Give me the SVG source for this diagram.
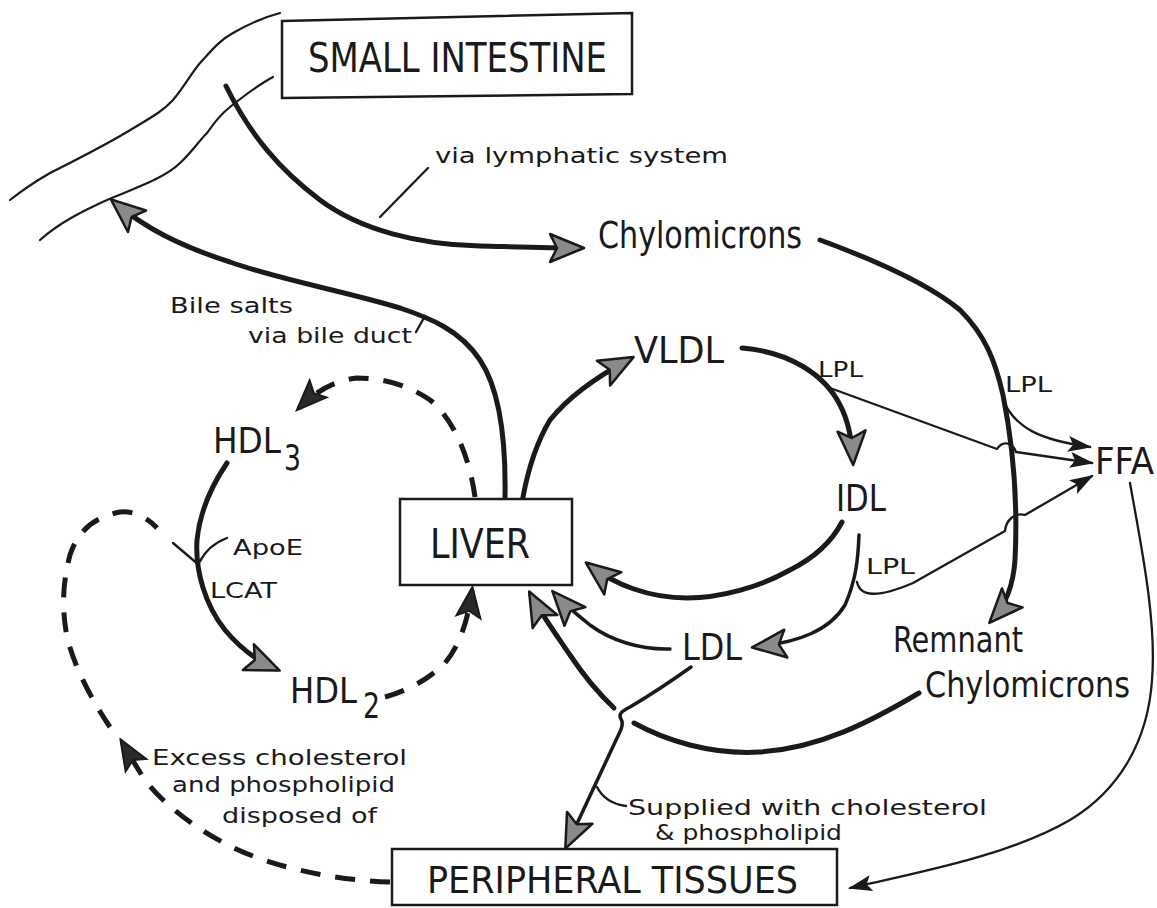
<svg xmlns="http://www.w3.org/2000/svg" width="1157" height="908" viewBox="0 0 1157 908">
<style>
.bg{fill:#fff}
.ln{fill:none;stroke:#1a1a1a;stroke-linecap:round;stroke-linejoin:round}
.thick{stroke-width:5}
.med{stroke-width:3.5}
.thin{stroke-width:2.3}
.dash{stroke-width:5;stroke-dasharray:20 15;stroke-linecap:butt}
.box{fill:none;stroke:#1a1a1a;stroke-width:2.5}
.big{font-family:"DejaVu Sans Condensed","DejaVu Sans",sans-serif;fill:#1a1a1a}
.sm{font-family:"DejaVu Sans",sans-serif;fill:#1a1a1a}
</style>
<defs>
<marker id="ah" viewBox="-2 -2 38 32" refX="30" refY="14" markerWidth="38" markerHeight="32" markerUnits="userSpaceOnUse" orient="auto">
<path d="M0,0 L34,14 L0,28 L7,14 Z" fill="#8a8a8a" stroke="#1a1a1a" stroke-width="2.5" stroke-linejoin="round"/>
</marker>
<marker id="ad" viewBox="-2 -2 34 28" refX="27" refY="12" markerWidth="34" markerHeight="28" markerUnits="userSpaceOnUse" orient="auto">
<path d="M0,0 L30,12 L0,24 L6,12 Z" fill="#2a2a2a" stroke="#1a1a1a" stroke-width="2"/>
</marker>
<marker id="at" viewBox="-1 -1 26 18" refX="22" refY="8" markerWidth="26" markerHeight="18" markerUnits="userSpaceOnUse" orient="auto">
<path d="M0,0 L24,8 L0,16 L5,8 Z" fill="#1a1a1a"/>
</marker>
</defs>
<rect class="bg" x="0" y="0" width="1157" height="908"/>

<g id="intestine-outline">
<path class="ln" stroke-width="2.2" d="M10,200 C25,188 38,180 50,173 C80,158 105,145 127,132 C150,118 162,112 173,100 C185,86 190,75 200,63 C212,50 220,40 233,33 C250,23 265,17 280,13"/>
<path class="ln" stroke-width="2.2" d="M40,240 C60,222 85,210 107,200 C135,188 165,178 180,163 C192,152 198,142 207,133 C215,122 220,115 230,107 C245,95 258,85 273,77"/>
</g>

<g id="connectors">
<path class="ln thick" marker-end="url(#ah)" d="M226,86 C250,135 280,170 320,200 C360,230 420,245 480,246 C520,247 550,248 580,248"/>
<path class="ln thin" d="M428,168 L380,217"/>
<path class="ln thick" marker-end="url(#ah)" d="M505,497 C506,440 500,390 480,360 C460,330 430,318 400,308 C340,290 280,280 230,262 C180,246 145,228 114,202"/>
<path class="ln thin" d="M416,332 L425,316"/>
<path class="ln thick" marker-end="url(#ah)" d="M820,240 C880,262 930,285 960,310 C985,335 995,360 1003,395 C1012,440 1018,500 1015,560 C1013,590 1003,608 992,620"/>
<path class="ln thin" marker-end="url(#at)" d="M1003,400 C1015,428 1040,440 1090,447"/>
<path class="ln thin" marker-end="url(#at)" d="M830,388 L997,449 C1002,441 1012,441 1016,452 L1092,463"/>
<path class="ln thick" marker-end="url(#ah)" d="M523,497 C528,470 535,445 550,420 C570,395 600,375 630,359"/>
<path class="ln thick" marker-end="url(#ah)" d="M742,348 C790,352 825,375 840,405 C848,420 852,440 853,461"/>
<path class="ln thick" marker-end="url(#ah)" d="M842,522 C830,545 810,560 790,570 C760,587 720,598 687,598 C650,598 615,585 589,565"/>
<path class="ln med" marker-end="url(#ah)" d="M859,535 C858,560 856,580 845,605 C830,630 800,642 756,647"/>
<path class="ln thin" marker-end="url(#at)" d="M857,582 C860,597 878,598 913,583 L1005,531 C1006,520 1015,512 1025,515 L1092,476"/>
<path class="ln thin" marker-end="url(#at)" d="M1130,483 C1140,540 1157,620 1152,680 C1148,740 1120,790 1070,820 C1010,855 920,872 850,888"/>
<path class="ln med" marker-end="url(#ah)" d="M670,649 C640,650 610,640 590,625 C575,613 563,603 555,594"/>
<path class="ln med" marker-end="url(#ah)" d="M691,667 C670,682 652,694 630,707 C622,711 618,714 621,719 C624,724 621,730 617,738 L567,845"/>
<path class="ln thick" d="M919,693 C870,722 820,748 760,752 C710,755 665,740 634,723"/>
<path class="ln thick" marker-end="url(#ah)" d="M614,708 C595,690 580,670 570,655 C555,633 540,612 531,595"/>
<path class="ln thin" d="M597,787 Q605,803 626,806"/>
<path class="ln dash" marker-end="url(#ad)" d="M475,497 C470,460 455,420 430,400 C405,383 380,378 357,378 C335,380 315,392 299,408"/>
<path class="ln thick" marker-end="url(#ah)" d="M227,463 C212,485 200,510 197,540 C195,570 205,605 225,630 C240,648 255,660 276,669"/>
<path class="ln thin" d="M173,543 L199,565"/>
<path class="ln thin" d="M199,563 Q208,545 227,538"/>
<path class="ln dash" marker-end="url(#ad)" d="M385,697 C410,690 430,678 445,663 C460,645 468,620 472,590"/>
<path class="ln dash" marker-end="url(#ad)" d="M390,882 C330,880 270,866 230,846 C190,826 160,800 145,780 C135,765 128,752 122,742"/>
<path class="ln dash" d="M110,727 C95,705 75,670 67,637 C62,610 62,585 70,555 C78,530 95,517 120,512 C135,510 150,520 157,528"/>
</g>

<g id="node-small-intestine">
<path class="box" d="M282,21 L632,13 L632,94 L282,98 Z"/>
<text class="big" x="308" y="72" font-size="40" textLength="299" lengthAdjust="spacingAndGlyphs">SMALL INTESTINE</text>
</g>
<g id="label-lymphatic"><text class="sm" x="435" y="163" font-size="22" textLength="293" lengthAdjust="spacingAndGlyphs">via lymphatic system</text></g>
<g id="node-chylomicrons"><text class="big" x="598" y="248" font-size="38" textLength="204" lengthAdjust="spacingAndGlyphs">Chylomicrons</text></g>
<g id="label-bile">
<text class="sm" x="170" y="313" font-size="22" textLength="123" lengthAdjust="spacingAndGlyphs">Bile salts</text>
<text class="sm" x="248" y="343" font-size="22" textLength="164" lengthAdjust="spacingAndGlyphs">via bile duct</text>
</g>
<g id="node-vldl"><text class="big" x="634" y="363" font-size="38" textLength="90" lengthAdjust="spacingAndGlyphs">VLDL</text></g>
<g id="label-lpl-1"><text class="sm" x="818" y="377" font-size="21" textLength="45" lengthAdjust="spacingAndGlyphs">LPL</text></g>
<g id="label-lpl-2"><text class="sm" x="1005" y="392" font-size="21" textLength="47" lengthAdjust="spacingAndGlyphs">LPL</text></g>
<g id="label-lpl-3"><text class="sm" x="866" y="574" font-size="21" textLength="49" lengthAdjust="spacingAndGlyphs">LPL</text></g>
<g id="node-ffa"><text class="big" x="1095" y="474" font-size="38" textLength="59" lengthAdjust="spacingAndGlyphs">FFA</text></g>
<g id="node-idl"><text class="big" x="836" y="511" font-size="37" textLength="50" lengthAdjust="spacingAndGlyphs">IDL</text></g>
<g id="node-liver">
<rect class="box" x="400" y="499" width="172" height="86"/>
<text class="big" x="430" y="558" font-size="41" textLength="100" lengthAdjust="spacingAndGlyphs">LIVER</text>
</g>
<g id="node-hdl3">
<text class="big" x="213" y="453" font-size="36" textLength="68" lengthAdjust="spacingAndGlyphs">HDL</text>
<text class="big" x="284" y="470" font-size="35" textLength="17" lengthAdjust="spacingAndGlyphs">3</text>
</g>
<g id="label-apoe"><text class="sm" x="233" y="555" font-size="21" textLength="70" lengthAdjust="spacingAndGlyphs">ApoE</text></g>
<g id="label-lcat"><text class="sm" x="210" y="598" font-size="21" textLength="67" lengthAdjust="spacingAndGlyphs">LCAT</text></g>
<g id="node-hdl2">
<text class="big" x="290" y="703" font-size="36" textLength="67" lengthAdjust="spacingAndGlyphs">HDL</text>
<text class="big" x="363" y="718" font-size="35" textLength="17" lengthAdjust="spacingAndGlyphs">2</text>
</g>
<g id="node-ldl"><text class="big" x="682" y="660" font-size="37" textLength="60" lengthAdjust="spacingAndGlyphs">LDL</text></g>
<g id="node-remnant">
<text class="big" x="893" y="652" font-size="35" textLength="130" lengthAdjust="spacingAndGlyphs">Remnant</text>
<text class="big" x="925" y="697" font-size="36" textLength="205" lengthAdjust="spacingAndGlyphs">Chylomicrons</text>
</g>
<g id="label-excess">
<text class="sm" x="152" y="765" font-size="22" textLength="255" lengthAdjust="spacingAndGlyphs">Excess cholesterol</text>
<text class="sm" x="172" y="792" font-size="22" textLength="223" lengthAdjust="spacingAndGlyphs">and phospholipid</text>
<text class="sm" x="222" y="823" font-size="22" textLength="155" lengthAdjust="spacingAndGlyphs">disposed of</text>
</g>
<g id="label-supplied">
<text class="sm" x="628" y="815" font-size="22" textLength="359" lengthAdjust="spacingAndGlyphs">Supplied with cholesterol</text>
<text class="sm" x="655" y="840" font-size="22" textLength="187" lengthAdjust="spacingAndGlyphs">&amp; phospholipid</text>
</g>
<g id="node-peripheral">
<rect class="box" x="392" y="849" width="445" height="56"/>
<text class="big" x="427" y="893" font-size="38" textLength="371" lengthAdjust="spacingAndGlyphs">PERIPHERAL TISSUES</text>
</g>
</svg>
